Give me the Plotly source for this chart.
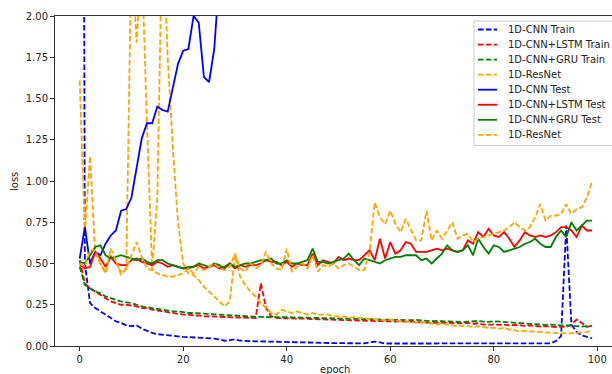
import plotly.graph_objects as go

epochs = list(range(100))

# training losses
cnn_train = [12.0, 0.50, 0.26, 0.23, 0.21, 0.19, 0.17, 0.15, 0.14, 0.125,
             0.12, 0.125, 0.105, 0.09, 0.08, 0.072, 0.068, 0.064, 0.06, 0.057,
             0.055, 0.054, 0.053, 0.05, 0.05, 0.047, 0.045, 0.04, 0.032, 0.035,
             0.04, 0.033, 0.03, 0.03, 0.028, 0.028, 0.027, 0.026, 0.026, 0.025,
             0.026, 0.024, 0.022, 0.022, 0.021, 0.02, 0.02, 0.019, 0.018, 0.018,
             0.017, 0.017, 0.016, 0.016, 0.016, 0.016, 0.022, 0.026, 0.022, 0.015,
             0.015, 0.015, 0.014, 0.014, 0.015, 0.014, 0.014, 0.014, 0.014, 0.014,
             0.014, 0.014, 0.014, 0.014, 0.014, 0.014, 0.014, 0.014, 0.014, 0.014,
             0.015, 0.014, 0.014, 0.014, 0.014, 0.014, 0.014, 0.014, 0.014, 0.014,
             0.015, 0.016, 0.03, 0.06, 0.73, 0.13, 0.085, 0.065, 0.055, 0.047]

lstm_train = [0.52, 0.38, 0.35, 0.33, 0.31, 0.29, 0.27, 0.26, 0.25, 0.25,
              0.245, 0.24, 0.23, 0.23, 0.22, 0.215, 0.21, 0.205, 0.20, 0.195,
              0.19, 0.19, 0.185, 0.185, 0.18, 0.18, 0.178, 0.176, 0.175, 0.175,
              0.174, 0.172, 0.172, 0.17, 0.17, 0.38, 0.23, 0.18, 0.17, 0.168,
              0.168, 0.167, 0.166, 0.165, 0.165, 0.163, 0.162, 0.16, 0.16, 0.158,
              0.158, 0.157, 0.156, 0.155, 0.155, 0.154, 0.152, 0.15, 0.152, 0.15,
              0.15, 0.148, 0.15, 0.148, 0.146, 0.145, 0.145, 0.143, 0.14, 0.142,
              0.14, 0.14, 0.138, 0.138, 0.137, 0.14, 0.135, 0.138, 0.13, 0.132,
              0.13, 0.128, 0.13, 0.125, 0.128, 0.125, 0.122, 0.125, 0.12, 0.118,
              0.12, 0.118, 0.115, 0.118, 0.115, 0.13, 0.16, 0.14, 0.115, 0.125]

gru_train = [0.48, 0.37, 0.35, 0.33, 0.32, 0.30, 0.29, 0.28, 0.27, 0.265,
             0.26, 0.25, 0.24, 0.235, 0.23, 0.225, 0.22, 0.215, 0.21, 0.21,
             0.205, 0.20, 0.20, 0.198, 0.195, 0.192, 0.19, 0.188, 0.185, 0.183,
             0.182, 0.18, 0.18, 0.178, 0.177, 0.176, 0.176, 0.175, 0.178, 0.176,
             0.175, 0.174, 0.173, 0.172, 0.172, 0.17, 0.172, 0.17, 0.168, 0.167,
             0.166, 0.166, 0.164, 0.163, 0.162, 0.162, 0.16, 0.16, 0.158, 0.158,
             0.157, 0.156, 0.156, 0.155, 0.156, 0.158, 0.154, 0.152, 0.15, 0.152,
             0.15, 0.148, 0.148, 0.146, 0.145, 0.148, 0.15, 0.152, 0.148, 0.146,
             0.15, 0.148, 0.142, 0.14, 0.138, 0.14, 0.136, 0.135, 0.132, 0.13,
             0.128, 0.13, 0.126, 0.125, 0.125, 0.122, 0.12, 0.118, 0.12, 0.122]

resnet_train = [1.61, 0.69, 1.15, 0.56, 0.50, 0.45, 0.55, 0.50, 0.45, 0.47,
                2.40, 1.84, 2.35, 1.35, 0.46, 0.90, 2.60, 1.75, 1.20, 0.75,
                0.50, 0.44, 0.43, 0.40, 0.36, 0.33, 0.30, 0.27, 0.24, 0.27,
                0.55, 0.42, 0.37, 0.33, 0.30, 0.26, 0.23, 0.20, 0.19, 0.22,
                0.21, 0.20, 0.21, 0.20, 0.19, 0.20, 0.19, 0.19, 0.19, 0.18,
                0.18, 0.18, 0.17, 0.175, 0.17, 0.17, 0.165, 0.16, 0.16, 0.155,
                0.16, 0.155, 0.15, 0.15, 0.145, 0.14, 0.145, 0.14, 0.135, 0.13,
                0.135, 0.13, 0.125, 0.12, 0.12, 0.12, 0.115, 0.12, 0.115, 0.11,
                0.11, 0.105, 0.11, 0.10, 0.095, 0.09, 0.09, 0.088, 0.085, 0.085,
                0.085, 0.08, 0.08, 0.078, 0.076, 0.076, 0.078, 0.08, 0.085, 0.09]

# validation losses
cnn_test = [0.53, 0.72, 0.50, 0.57, 0.55, 0.62, 0.67, 0.70, 0.82, 0.83,
            0.90, 1.07, 1.26, 1.35, 1.35, 1.45, 1.43, 1.42, 1.57, 1.71,
            1.79, 1.80, 2.00, 1.96, 1.63, 1.60, 1.80, 2.25, 2.40, 2.55,
            2.60, 2.70, 2.80, 2.85, 2.90, 3.00, 3.05, 3.10, 3.20, 3.25,
            3.30, 3.40, 3.45, 3.50, 3.60, 3.65, 3.70, 3.80, 3.85, 3.90,
            4.00, 4.05, 4.10, 4.20, 4.25, 4.30, 4.40, 4.45, 4.50, 4.60,
            4.65, 4.70, 4.80, 4.85, 4.90, 5.00, 5.05, 5.10, 5.20, 5.25,
            5.30, 5.40, 5.45, 5.50, 5.60, 5.65, 5.70, 5.80, 5.85, 5.90,
            6.00, 6.05, 6.10, 6.20, 6.25, 6.30, 6.40, 6.45, 6.50, 6.60,
            6.65, 6.70, 6.80, 6.85, 6.90, 7.00, 7.05, 7.10, 7.20, 7.25]

lstm_test = [0.49, 0.47, 0.48, 0.57, 0.53, 0.48, 0.54, 0.50, 0.49, 0.49,
             0.52, 0.53, 0.51, 0.50, 0.49, 0.51, 0.50, 0.48, 0.49, 0.48,
             0.47, 0.47, 0.48, 0.49, 0.47, 0.48, 0.49, 0.47, 0.48, 0.50,
             0.47, 0.49, 0.48, 0.49, 0.49, 0.50, 0.52, 0.51, 0.51, 0.49,
             0.51, 0.48, 0.50, 0.49, 0.49, 0.56, 0.49, 0.52, 0.51, 0.50,
             0.54, 0.52, 0.53, 0.52, 0.52, 0.55, 0.58, 0.52, 0.65, 0.53,
             0.63, 0.56, 0.58, 0.63, 0.62, 0.57, 0.57, 0.57, 0.58, 0.59,
             0.58, 0.59, 0.58, 0.57, 0.58, 0.64, 0.62, 0.69, 0.66, 0.71,
             0.67, 0.66, 0.69, 0.65, 0.60, 0.64, 0.69, 0.67, 0.66, 0.67,
             0.66, 0.67, 0.69, 0.72, 0.72, 0.70, 0.66, 0.73, 0.70, 0.70]

gru_test = [0.51, 0.50, 0.55, 0.60, 0.61, 0.55, 0.53, 0.54, 0.55, 0.54,
            0.53, 0.52, 0.53, 0.51, 0.50, 0.52, 0.52, 0.50, 0.49, 0.48,
            0.47, 0.48, 0.48, 0.50, 0.49, 0.48, 0.50, 0.49, 0.47, 0.50,
            0.48, 0.49, 0.50, 0.50, 0.51, 0.52, 0.52, 0.53, 0.50, 0.50,
            0.52, 0.50, 0.50, 0.51, 0.52, 0.59, 0.51, 0.51, 0.50, 0.51,
            0.52, 0.53, 0.56, 0.52, 0.49, 0.53, 0.52, 0.51, 0.50, 0.52,
            0.53, 0.54, 0.54, 0.55, 0.55, 0.55, 0.52, 0.53, 0.50, 0.53,
            0.56, 0.61, 0.58, 0.57, 0.58, 0.61, 0.55, 0.65, 0.60, 0.56,
            0.61, 0.60, 0.57, 0.58, 0.59, 0.60, 0.62, 0.63, 0.65, 0.62,
            0.60, 0.60, 0.66, 0.70, 0.66, 0.75, 0.70, 0.73, 0.76, 0.76]

resnet_test = [0.50, 0.48, 0.58, 0.58, 0.50, 0.44, 0.59, 0.52, 0.43, 0.47,
               0.55, 0.63, 0.54, 0.47, 0.46, 0.44, 0.43, 0.42, 0.42, 0.43,
               0.44, 0.47, 0.44, 0.48, 0.46, 0.48, 0.50, 0.47, 0.46, 0.48,
               0.56, 0.47, 0.45, 0.50, 0.47, 0.49, 0.57, 0.50, 0.47, 0.46,
               0.59, 0.45, 0.48, 0.50, 0.47, 0.55, 0.45, 0.49, 0.48, 0.50,
               0.47, 0.49, 0.50, 0.48, 0.46, 0.46, 0.57, 0.87, 0.78, 0.74,
               0.82, 0.74, 0.69, 0.77, 0.70, 0.64, 0.64, 0.82, 0.64, 0.70,
               0.65, 0.70, 0.75, 0.65, 0.67, 0.68, 0.63, 0.65, 0.66, 0.67,
               0.68, 0.69, 0.70, 0.72, 0.75, 0.72, 0.70, 0.72, 0.78, 0.86,
               0.76, 0.79, 0.79, 0.80, 0.86, 0.80, 0.83, 0.84, 0.90, 1.00]

series_names = ["1D-CNN Train", "1D-CNN+LSTM Train", "1D-CNN+GRU Train", "1D-ResNet",
                "1D-CNN Test", "1D-CNN+LSTM Test", "1D-CNN+GRU Test", "1D-ResNet"]
series_values = [cnn_train, lstm_train, gru_train, resnet_train,
                 cnn_test, lstm_test, gru_test, resnet_test]
series_colors = ["#0000ff", "#ff0000", "#008000", "#ffa500",
                 "#0000ff", "#ff0000", "#008000", "#ffa500"]
series_dashed = [True, True, True, True, False, False, False, True]

x_ticks = [0, 20, 40, 60, 80, 100]
y_ticks = [0.0, 0.25, 0.5, 0.75, 1.0, 1.25, 1.5, 1.75, 2.0]
y_tick_labels = ["0.00", "0.25", "0.50", "0.75", "1.00", "1.25", "1.50", "1.75", "2.00"]

W, H = 612, 374
ML, MR, MT, MB = 55, 0, 16, 28
PW, PH = W - ML - MR, H - MT - MB
DASH = "5.5px,2.4px"
LW = 1.8


def px(xp):
    return (xp - ML) / PW


def py(yp):
    return (H - MB - yp) / PH


fig = go.Figure()
for name, vals, col, dashed in zip(series_names, series_values, series_colors, series_dashed):
    fig.add_trace(go.Scatter(
        x=epochs, y=vals, mode="lines", name=name, showlegend=False,
        line=dict(color=col, width=LW, dash=DASH if dashed else "solid"),
    ))

font = dict(family="DejaVu Sans", size=10, color="#222222")

fig.update_layout(
    width=W, height=H,
    margin=dict(l=ML, r=MR, t=MT, b=MB),
    paper_bgcolor="white", plot_bgcolor="white",
    font=font,
    showlegend=False,
    xaxis=dict(range=[-4.77, 102.84], tickvals=x_ticks, ticktext=[str(v) for v in x_ticks],
               showgrid=False, zeroline=False, showline=True, linecolor="#333333",
               linewidth=1, mirror=True, ticks="outside", ticklen=4, tickwidth=1,
               tickcolor="#333333", tickfont=font),
    yaxis=dict(range=[0, 2.0], tickvals=y_ticks, ticktext=y_tick_labels,
               showgrid=False, zeroline=False, showline=True, linecolor="#333333",
               linewidth=1, ticks="outside", ticklen=4, tickwidth=1,
               tickcolor="#333333", tickfont=font),
)

# axis titles
fig.add_annotation(text="loss", x=px(14), y=py(182), xref="paper", yref="paper",
                   textangle=-90, showarrow=False, font=font,
                   xanchor="center", yanchor="middle")
fig.add_annotation(text="epoch", x=px(335), y=py(369), xref="paper", yref="paper",
                   showarrow=False, font=font, xanchor="center", yanchor="middle")

# legend box
shapes = [dict(type="rect", xref="paper", yref="paper",
               x0=px(474), x1=px(616), y0=py(145.5), y1=py(21),
               line=dict(color="#cccccc", width=1),
               fillcolor="rgba(255,255,255,0.8)", layer="above")]
annotations = []
for i, (name, col, dashed) in enumerate(zip(series_names, series_colors, series_dashed)):
    yc = 29.5 + i * 15.05
    shapes.append(dict(type="line", xref="paper", yref="paper",
                       x0=px(478), x1=px(497), y0=py(yc), y1=py(yc),
                       line=dict(color=col, width=LW, dash=DASH if dashed else "solid"),
                       layer="above"))
    annotations.append(dict(text=name, x=px(506), y=py(yc), xref="paper", yref="paper",
                            showarrow=False, font=font, xanchor="left", yanchor="middle"))
fig.update_layout(shapes=shapes)
for a in annotations:
    fig.add_annotation(**a)

fig.write_html("out.html")
